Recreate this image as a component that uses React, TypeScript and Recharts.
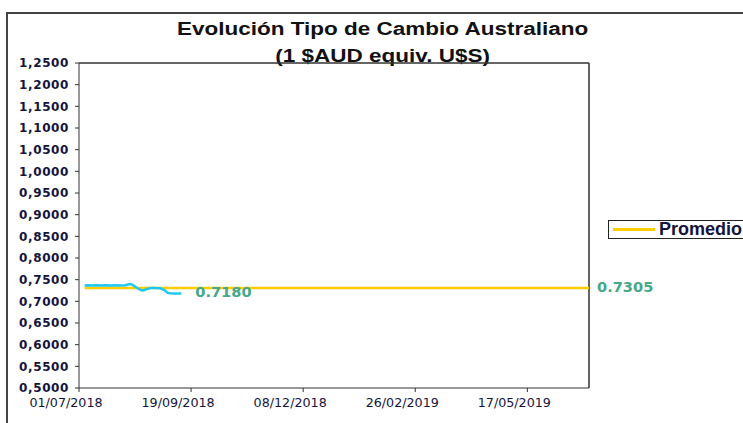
import { LineChart, Line, XAxis, YAxis, ReferenceLine } from 'recharts';

// days counted from 01/07/2018
const BASE_DATE = Date.UTC(2018, 6, 1);
const rateDays = [4, 6, 9, 12, 16, 19, 23, 26, 30, 33, 35, 36, 38, 41, 44, 46, 48, 51, 54, 58, 61, 63, 65, 68, 71, 73];
const rateValues = [0.7368, 0.7370, 0.7368, 0.7370, 0.7368, 0.7370, 0.7368, 0.7370, 0.7368, 0.7370, 0.7390, 0.7400, 0.7385, 0.7320, 0.7260, 0.7250, 0.7280, 0.7308, 0.7308, 0.7300, 0.7260, 0.7200, 0.7185, 0.7183, 0.7183, 0.7183];
const promedioDays = [4, 364];
const PROMEDIO = 0.7305;
const yTicks = [0.5, 0.55, 0.6, 0.65, 0.7, 0.75, 0.8, 0.85, 0.9, 0.95, 1.0, 1.05, 1.1, 1.15, 1.2, 1.25];
const xTicks = [0, 80, 160, 240, 320];

const rateData = rateDays.map((d, i) => ({ day: d, rate: rateValues[i] }));
const promedioData = promedioDays.map(d => ({ day: d, promedio: PROMEDIO }));

const fmtDate = (d: number) => {
    const dt = new Date(BASE_DATE + d * 86400000);
    const dd = String(dt.getUTCDate()).padStart(2, '0');
    const mm = String(dt.getUTCMonth() + 1).padStart(2, '0');
    return `${dd}/${mm}/${dt.getUTCFullYear()}`;
};

const VALUE_COLOR = '#45A88A';
const ARIAL = "'Liberation Sans', Arial, sans-serif";
const VERDANA = "'DejaVu Sans', Verdana, sans-serif";

function EndLabel({ x = 0, y = 0, index = 0, count = 0, text, dx = 12 }: any) {
    if (index !== count - 1) return null;
    return (
        <text x={x + dx} y={y} dominantBaseline="middle" fontSize={14.6} fontWeight={700}
            fontFamily={VERDANA} fill={VALUE_COLOR}>
            {text}
        </text>
    );
}

export default function App() {
    return (
        <div style={{ position: 'absolute', left: 0, top: 0, width: 743, height: 423, overflow: 'hidden', background: '#fff' }}>
            <div style={{ position: 'absolute', left: 6, top: 12, width: 800, height: 500, border: '2px solid #444', boxSizing: 'border-box' }} />
            <div style={{
                position: 'absolute', left: 0, width: 765, top: 16, textAlign: 'center',
                fontFamily: ARIAL, fontWeight: 700, fontSize: 18, lineHeight: '27px', color: '#111',
                transform: 'scaleX(1.25)', transformOrigin: '382px 0'
            }}>
                Evolución Tipo de Cambio Australiano<br />(1 $AUD equiv. U$S)
            </div>
            <div style={{ position: 'absolute', left: 0, top: 0 }}>
                <LineChart width={743} height={423} margin={{ top: 63, right: 154, left: 8, bottom: 0 }}>
                    <XAxis
                        dataKey="day"
                        type="number"
                        domain={[0, 364]}
                        ticks={xTicks}
                        tickFormatter={fmtDate}
                        height={35}
                        stroke="#333"
                        tickSize={4}
                        tickMargin={6}
                        tick={{ fill: '#14143C', fontSize: 12.7, fontFamily: VERDANA, dx: -13 }}
                        allowDuplicatedCategory={false}
                    />
                    <YAxis
                        type="number"
                        domain={[0.5, 1.25]}
                        ticks={yTicks}
                        tickFormatter={(v: number) => v.toFixed(4).replace('.', ',')}
                        width={71}
                        stroke="#333"
                        tickSize={4}
                        tickMargin={6}
                        interval={0}
                        tick={{ fill: '#14143C', fontSize: 12, fontWeight: 700, fontFamily: VERDANA, letterSpacing: 0.6 }}
                    />
                    <ReferenceLine y={1.25} stroke="#333" strokeWidth={1.5} />
                    <ReferenceLine x={364} stroke="#333" strokeWidth={1.5} />
                    <Line
                        data={promedioData}
                        dataKey="promedio"
                        name="Promedio"
                        stroke="#FFCC00"
                        strokeWidth={2.5}
                        dot={false}
                        isAnimationActive={false}
                        label={(p: any) => <EndLabel {...p} count={promedioData.length} text="0.7305" dx={8} />}
                    />
                    <Line
                        data={rateData}
                        dataKey="rate"
                        name="Tipo de cambio"
                        stroke="#1EC8F2"
                        strokeWidth={2.5}
                        dot={false}
                        isAnimationActive={false}
                        label={(p: any) => <EndLabel {...p} count={rateData.length} text="0.7180" dx={14} />}
                    />
                </LineChart>
            </div>
            <div style={{
                position: 'absolute', left: 608, top: 220, width: 160, height: 19, display: 'flex', alignItems: 'center',
                border: '1.5px solid #222', background: '#fff', boxSizing: 'border-box'
            }}>
                <div style={{ width: 42, height: 3, background: '#FFCC00', marginLeft: 4, marginRight: 4 }} />
                <span style={{ fontFamily: ARIAL, fontWeight: 700, fontSize: 18, color: '#14143C' }}>Promedio</span>
            </div>
        </div>
    );
}
